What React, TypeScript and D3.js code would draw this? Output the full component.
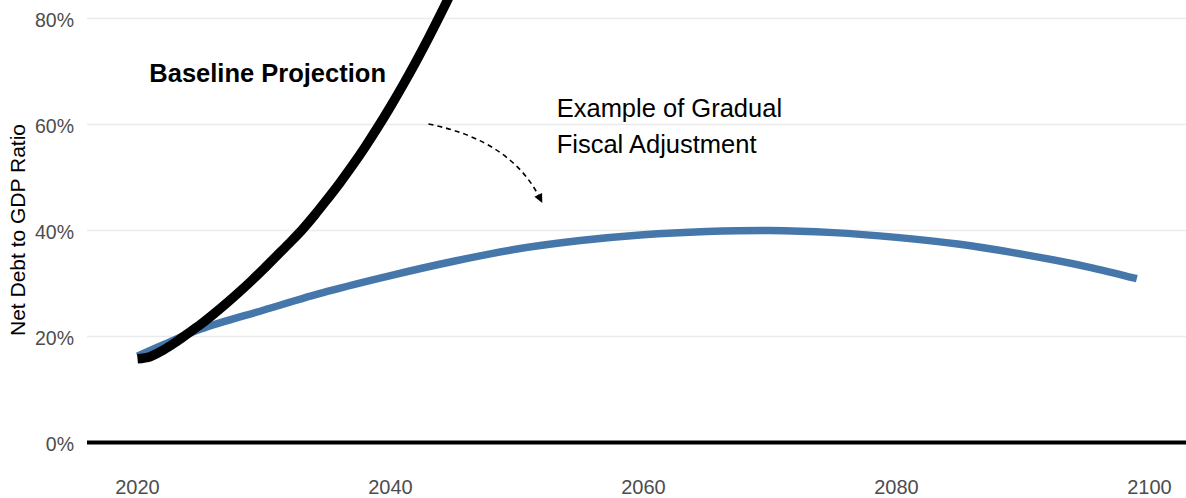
import React from "react";
import * as d3 from "d3";

const W = 1186;
const H = 498;

const baselineYears = [2020, 2021, 2022, 2023, 2024, 2025, 2026, 2027, 2028, 2029, 2030, 2031, 2032, 2033, 2034, 2035, 2036, 2037, 2038, 2039, 2040, 2041, 2042, 2043, 2044, 2045];
const baselineValues = [15.8, 16.2, 17.4, 18.9, 20.6, 22.3, 24.2, 26.2, 28.3, 30.5, 32.8, 35.2, 37.6, 40.1, 42.9, 45.9, 49.0, 52.3, 55.8, 59.5, 63.4, 67.5, 71.8, 76.3, 81.0, 85.9];

const gradualYears = [2020, 2022, 2025, 2030, 2035, 2040, 2045, 2050, 2055, 2060, 2065, 2070, 2075, 2080, 2085, 2090, 2095, 2099];
const gradualValues = [16.3, 18.4, 21.4, 25.0, 28.5, 31.5, 34.2, 36.5, 38.1, 39.2, 39.8, 40.0, 39.6, 38.7, 37.4, 35.5, 33.2, 30.9];

const yTicks = [0, 20, 40, 60, 80];
const xTicks = [2020, 2040, 2060, 2080, 2100];

const yTitle = "Net Debt to GDP Ratio";
const baselineLabel = "Baseline Projection";
const gradualLabel = ["Example of Gradual", "Fiscal Adjustment"];

export default function App() {
  const x = d3.scaleLinear().domain([2020, 2100]).range([137.5, 1149.5]);
  const y = d3.scaleLinear().domain([0, 80]).range([442.5, 18.5]);
  const left = 87;
  const right = W;

  const line = d3
    .line<[number, number]>()
    .x((d) => x(d[0]))
    .y((d) => y(d[1]))
    .curve(d3.curveCatmullRom.alpha(0.5));

  const baseData: [number, number][] = baselineYears.map((yr, i) => [yr, baselineValues[i]]);
  const gradData: [number, number][] = gradualYears.map((yr, i) => [yr, gradualValues[i]]);

  // arrow (annotation) in data coords
  const a0: [number, number] = [x(2043.0), y(60.1)];
  const ac: [number, number] = [x(2049.5), y(57.0)];
  const a1: [number, number] = [x(2052.0), y(45.2)];
  const dx = a1[0] - ac[0];
  const dy = a1[1] - ac[1];
  const len = Math.hypot(dx, dy);
  const ux = dx / len;
  const uy = dy / len;
  const headL = 9;
  const headW = 4.3;
  const baseX = a1[0] - ux * headL;
  const baseY = a1[1] - uy * headL;
  const head = [
    [a1[0], a1[1]],
    [baseX - uy * headW, baseY + ux * headW],
    [baseX + uy * headW, baseY - ux * headW],
  ]
    .map((p) => p.join(","))
    .join(" ");
  const shaftEnd: [number, number] = [a1[0] - ux * 6, a1[1] - uy * 6];

  const font = "'Liberation Sans', Arial, sans-serif";

  return (
    <svg
      width={W}
      height={H}
      style={{ position: "absolute", left: 0, top: 0, background: "#fff" }}
      fontFamily={font}
    >
      <defs>
        <clipPath id="plot">
          <rect x={left} y={0} width={right - left} height={H} />
        </clipPath>
      </defs>
      <rect x={0} y={0} width={W} height={H} fill="#fff" />
      {yTicks.map((t) =>
        t === 0 ? null : (
          <line key={t} x1={left} x2={right} y1={y(t)} y2={y(t)} stroke="#ebebeb" strokeWidth={1.3} />
        )
      )}
      {yTicks.map((t) => (
        <text key={"yl" + t} x={74} y={y(t) + 8.8} textAnchor="end" fontSize={19.5} fill="#4d4d4d">
          {t + "%"}
        </text>
      ))}
      {xTicks.map((t) => (
        <text key={"xl" + t} x={x(t)} y={494} textAnchor="middle" fontSize={20} fill="#4d4d4d">
          {t}
        </text>
      ))}
      <text
        transform={`translate(25,230) rotate(-90)`}
        textAnchor="middle"
        fontSize={21}
        fill="#000"
      >
        {yTitle}
      </text>
      <line x1={left} x2={right} y1={y(0)} y2={y(0)} stroke="#000" strokeWidth={4} />
      <g clipPath="url(#plot)">
        <path d={line(gradData) || ""} fill="none" stroke="#4677aa" strokeWidth={7.5} strokeLinecap="butt" />
        <path d={line(baseData) || ""} fill="none" stroke="#000" strokeWidth={9.5} strokeLinecap="butt" strokeLinejoin="round" />
      </g>
      <text x={149.3} y={81.7} fontSize={25.5} fontWeight="bold" fill="#000">
        {baselineLabel}
      </text>
      {gradualLabel.map((s, i) => (
        <text key={s} x={556.7} y={116.5 + i * 36.8} fontSize={25.5} fill="#000">
          {s}
        </text>
      ))}
      <path
        d={`M${a0[0]},${a0[1]} Q${ac[0]},${ac[1]} ${shaftEnd[0]},${shaftEnd[1]}`}
        fill="none"
        stroke="#000"
        strokeWidth={1.6}
        strokeDasharray="5,4"
      />
      <polygon points={head} fill="#000" />
    </svg>
  );
}
